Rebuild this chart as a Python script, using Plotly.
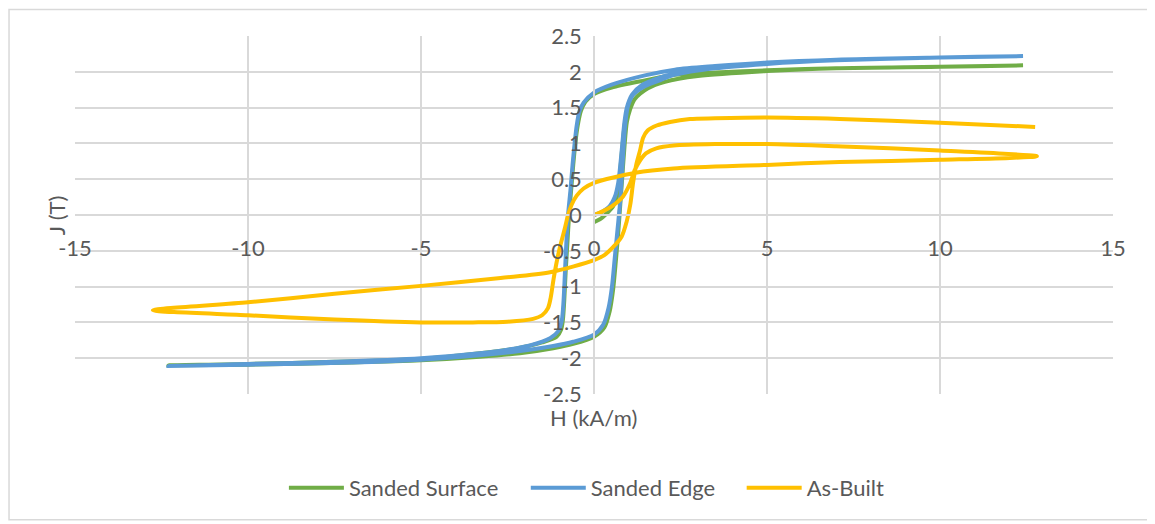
import plotly.graph_objects as go

# ---------------- data (H in kA/m, J in T) ----------------
surface_h = [0, 0.2, 0.32, 0.55, 0.68, 0.75, 0.82, 0.9, 1.0, 1.18, 1.56, 2.05, 3.0, 5.0, 7.0, 10.0, 12.4,
             10.0, 7.0, 5.0, 3.5, 2.34, 1.47, 0.51, 0.0, -0.25, -0.38, -0.47, -0.54, -0.6, -0.66, -0.72,
             -0.77, -0.82, -0.86, -0.9, -0.95, -1.08, -1.5, -2.2, -3.3, -5.0, -7.5, -10.0, -12.3,
             -10.0, -7.0, -5.0, -3.3, -2.14, -1.18, -0.6, 0.0, 0.3, 0.45, 0.55, 0.63, 0.7, 0.76, 0.82,
             0.88, 0.95, 1.04, 1.18, 1.56, 2.05, 3.0, 5.0, 7.0, 10.0, 12.4]
surface_j = [-0.1, -0.05, 0.0, 0.12, 0.3, 0.58, 0.95, 1.3, 1.45, 1.62, 1.77, 1.86, 1.94, 2.01, 2.05, 2.07, 2.09,
             2.07, 2.05, 2.02, 1.99, 1.96, 1.88, 1.78, 1.69, 1.58, 1.45, 1.25, 1.0, 0.7, 0.35, 0.0,
             -0.4, -0.8, -1.2, -1.47, -1.6, -1.7, -1.78, -1.86, -1.93, -2.01, -2.05, -2.08, -2.1,
             -2.09, -2.06, -2.03, -1.98, -1.93, -1.86, -1.8, -1.7, -1.57, -1.35, -1.05, -0.65, -0.25, 0.15, 0.55,
             0.95, 1.3, 1.47, 1.62, 1.77, 1.86, 1.94, 2.01, 2.05, 2.07, 2.09]

edge_h = [0, 0.25, 0.45, 0.6, 0.7, 0.76, 0.82, 0.88, 0.95, 1.1, 1.4, 1.9, 2.5, 3.5, 5.0, 7.0, 10.0, 12.4,
          10.0, 7.0, 5.0, 3.5, 2.34, 1.47, 0.51, 0.0, -0.3, -0.42, -0.5, -0.56, -0.62, -0.68, -0.75,
          -0.8, -0.84, -0.88, -0.93, -1.03, -1.27, -1.85, -2.5, -3.3, -5.0, -7.5, -10.0, -12.3,
          -10.0, -7.0, -5.0, -3.3, -2.14, -1.18, -0.6, 0.0, 0.27, 0.42, 0.52, 0.6, 0.68, 0.75, 0.8,
          0.85, 0.9, 0.98, 1.13, 1.47, 1.95, 2.34, 3.5, 5.0, 7.0, 10.0, 12.4]
edge_j = [0.0, 0.05, 0.12, 0.25, 0.45, 0.7, 1.0, 1.3, 1.5, 1.68, 1.82, 1.92, 1.99, 2.06, 2.12, 2.17, 2.2, 2.22,
          2.2, 2.17, 2.13, 2.08, 2.03, 1.95, 1.82, 1.71, 1.57, 1.45, 1.25, 1.0, 0.7, 0.35, 0.0,
          -0.4, -0.8, -1.2, -1.47, -1.62, -1.72, -1.82, -1.88, -1.93, -2.0, -2.05, -2.08, -2.11,
          -2.09, -2.06, -2.02, -1.96, -1.9, -1.83, -1.77, -1.67, -1.53, -1.3, -1.0, -0.6, -0.2, 0.15, 0.5,
          0.9, 1.25, 1.52, 1.68, 1.8, 1.89, 1.96, 2.05, 2.11, 2.16, 2.2, 2.22]

built_h = [0, 0.25, 0.51, 0.84, 1.04, 1.18, 1.33, 1.5, 1.8, 2.3, 3.5, 5.0, 7.0, 10.0, 12.8,
           10.0, 7.1, 5.0, 2.3, 1.2, 0.0, -0.3, -0.5, -0.65, -0.75, -0.85, -0.97, -1.08, -1.17, -1.25,
           -1.33, -1.5, -1.76, -2.5, -3.5, -5.0, -7.5, -10.0, -12.75,
           -10.0, -7.5, -5.0, -2.7, -1.27, 0.0, 0.3, 0.55, 0.8, 0.94, 1.05, 1.13, 1.22, 1.33, 1.42,
           1.55, 1.81, 2.2, 2.77, 3.5, 5.0, 7.1, 10.0, 12.75]
built_j = [0.0, 0.05, 0.12, 0.26, 0.44, 0.63, 0.76, 0.86, 0.93, 0.97, 0.99, 0.99, 0.96, 0.9, 0.82,
           0.77, 0.74, 0.7, 0.65, 0.59, 0.45, 0.37, 0.27, 0.14, 0.0, -0.2, -0.42, -0.66, -0.9, -1.15,
           -1.3, -1.4, -1.45, -1.49, -1.5, -1.5, -1.46, -1.4, -1.33,
           -1.22, -1.1, -0.99, -0.88, -0.8, -0.63, -0.56, -0.45, -0.3, -0.1, 0.15, 0.45, 0.7, 0.9, 1.08,
           1.18, 1.25, 1.3, 1.34, 1.35, 1.36, 1.34, 1.29, 1.23]

series_names = ["Sanded Surface", "Sanded Edge", "As-Built"]
series_colors = ["#70AD47", "#5B9BD5", "#FFC000"]

x_ticks = [-15, -10, -5, 0, 5, 10, 15]
x_ticktext = ["-15", "-10", "-5", "0", "5", "10", "15"]
y_ticks = [-2.5, -2, -1.5, -1, -0.5, 0, 0.5, 1, 1.5, 2, 2.5]
y_ticktext = ["-2.5", "-2", "-1.5", "-1", "-0.5", "0", "0.5", "1", "1.5", "2", "2.5"]

# ---------------- figure ----------------
OFF = 8  # page body margin in the browser
W, H = 1155 - OFF, 524 - OFF
# plot area in page pixels: left 75, right 1113.5, top 35.5, bottom 394
L, T = 75 - OFF, 35.5 - OFF
R = W - (1113.5 - OFF)
B = H - (394 - OFF)
pw, ph = W - L - R, H - T - B


def px2paper_x(px):  # page px -> paper fraction
    return (px - OFF - L) / pw


def px2paper_y(py):
    return (H - B - (py - OFF)) / ph


legend_ids = ["legend", "legend2", "legend3"]
legend_left_px = [284, 526, 742]

fig = go.Figure()
for hs, js, name, col, lg in zip([surface_h, edge_h, built_h], [surface_j, edge_j, built_j],
                                 series_names, series_colors, legend_ids):
    fig.add_trace(go.Scatter(x=hs, y=js, mode="lines", name=name, legend=lg,
                             line=dict(color=col, width=4, shape="spline", smoothing=0.8)))

grid = "#d9d9d9"
txt = "#595959"
FS = 22

legend_layout = {}
for lg, lx in zip(legend_ids, legend_left_px):
    legend_layout[lg] = dict(orientation="h", x=px2paper_x(lx), xanchor="left", y=px2paper_y(488),
                             yanchor="middle", font=dict(size=FS, color=txt), itemwidth=55,
                             bgcolor="rgba(0,0,0,0)")

fig.update_layout(
    width=W, height=H,
    margin=dict(l=L, r=R, t=T, b=B, pad=0),
    paper_bgcolor="white", plot_bgcolor="white",
    font=dict(family="Lato", size=FS, color=txt),
    showlegend=True,
    xaxis=dict(range=[-15, 15], tickvals=x_ticks, ticktext=x_ticktext, showgrid=True,
               gridcolor=grid, gridwidth=1.5, zeroline=False, showline=True, linecolor=grid,
               linewidth=1.5, anchor="free", position=0.5, ticks="", ticklabelstandoff=14,
               tickfont=dict(size=FS, color=txt)),
    yaxis=dict(range=[-2.5, 2.5], tickvals=y_ticks, ticktext=y_ticktext, showgrid=True,
               gridcolor=grid, gridwidth=1.5, zeroline=False, showline=True, linecolor=grid,
               linewidth=1.5, anchor="free", position=0.5, ticks="", ticklabelstandoff=7,
               tickfont=dict(size=FS, color=txt)),
    annotations=[
        dict(text="H (kA/m)", xref="paper", yref="paper", x=px2paper_x(594), y=px2paper_y(418),
             xanchor="center", yanchor="middle", showarrow=False, font=dict(size=FS, color=txt)),
        dict(text="J (T)", xref="paper", yref="paper", x=px2paper_x(56), y=px2paper_y(215),
             xanchor="center", yanchor="middle", showarrow=False, textangle=-90,
             font=dict(size=FS, color=txt)),
    ],
    shapes=[dict(type="rect", xref="paper", yref="paper", layer="below",
                 x0=px2paper_x(9), x1=px2paper_x(1150), y0=px2paper_y(520), y1=px2paper_y(9),
                 line=dict(color=grid, width=1.5))],
    **legend_layout,
)

fig.write_html("out.html")
